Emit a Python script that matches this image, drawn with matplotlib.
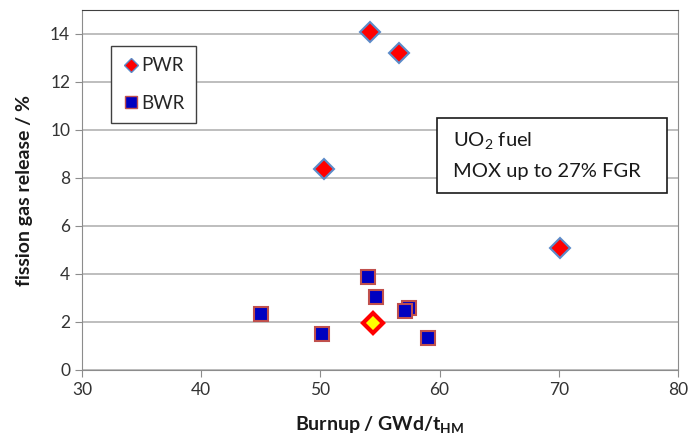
import matplotlib.pyplot as plt
from matplotlib.lines import Line2D
from matplotlib.patches import Rectangle

plt.rcParams['font.family'] = ['Lato', 'DejaVu Sans']
plt.rcParams['mathtext.fontset'] = 'custom'
plt.rcParams['mathtext.rm'] = 'Lato'
plt.rcParams['mathtext.bf'] = 'Lato:bold'

# PWR data (burnup GWd/tHM, fission gas release %)
pwr_burnup = [54.2, 56.6, 50.3, 70.1]
pwr_fgr = [14.1, 13.2, 8.38, 5.08]

# highlighted PWR point
pwr_hl_burnup = [54.4]
pwr_hl_fgr = [1.95]

# BWR data
bwr_burnup = [45.0, 50.15, 54.0, 54.7, 57.45, 57.1, 59.05]
bwr_fgr = [2.32, 1.5, 3.89, 3.05, 2.6, 2.47, 1.35]

W, H = 691, 441
fig = plt.figure(figsize=(W / 100, H / 100), dpi=100)
ax = fig.add_axes([82 / W, 1 - 370 / H, (678 - 82) / W, (370 - 10) / H])

ax.set_xlim(30, 80)
ax.set_ylim(0, 15)
ax.set_xticks(range(30, 81, 10))
ax.set_yticks(range(0, 15, 2))
ax.grid(axis='y', color='#b3b3b3', linewidth=1.2)
ax.set_axisbelow(True)
for s in ['left', 'bottom', 'right']:
    ax.spines[s].set_color('#8c8c8c')
ax.spines['top'].set_color('#404040')
ax.tick_params(colors='#8c8c8c', labelcolor='#333333', labelsize=12.5,
               length=5, direction='out')

ax.plot(pwr_burnup, pwr_fgr, 'D', ms=10.5, mfc='#ff0000', mec='#5b8bc9',
        mew=1.5, linestyle='none', zorder=3)
ax.plot(bwr_burnup, bwr_fgr, 's', ms=10, mfc='#0000c0', mec='#c0504d',
        mew=1.5, linestyle='none', zorder=3)
ax.plot(pwr_hl_burnup, pwr_hl_fgr, 'D', ms=10.5, mfc='#ffff00', mec='#ff0000',
        mew=3, linestyle='none', zorder=4)

ax.set_xlabel(r'Burnup / GWd/t$_{\mathbf{HM}}$', fontsize=14, fontweight='bold',
              color='#1a1a1a', labelpad=12)
ax.set_ylabel('fission gas release / %', fontsize=14, fontweight='bold',
              color='#1a1a1a', labelpad=12)

handles = [
    Line2D([], [], marker='D', ms=7, mfc='#ff0000', mec='#5b8bc9', mew=1, linestyle='none'),
    Line2D([], [], marker='s', ms=8, mfc='#0000c0', mec='#c0504d', mew=1, linestyle='none'),
]
leg = ax.legend(handles, ['PWR', 'BWR'], loc='upper left',
                bbox_to_anchor=((111 - 82) / 596, (370 - 46) / 360),
                fontsize=13.5, frameon=True, fancybox=False, framealpha=1,
                edgecolor='#404040', labelspacing=1.1, handletextpad=0.1,
                handlelength=0.9, borderpad=0.6, borderaxespad=0)
leg.get_frame().set_linewidth(1.0)
for t in leg.get_texts():
    t.set_color('#262626')

# annotation box
box = Rectangle((437 / W, 1 - 193 / H), (667 - 437) / W, (193 - 118) / H,
                transform=fig.transFigure, facecolor='white',
                edgecolor='#1a1a1a', linewidth=1.2, zorder=5)
fig.patches.append(box)
fig.text(453 / W, 1 - 141 / H, r'UO$_2$ fuel', fontsize=14.5, color='#1a1a1a',
         va='center', ha='left', zorder=6)
fig.text(453 / W, 1 - 172 / H, 'MOX up to 27% FGR', fontsize=14.5, color='#1a1a1a',
         va='center', ha='left', zorder=6)

plt.savefig('out.png', dpi=100)
